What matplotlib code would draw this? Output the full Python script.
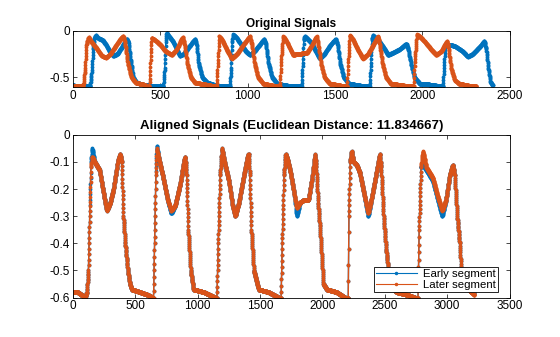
import numpy as np
import matplotlib.pyplot as plt

plt.rcParams['font.family'] = ['Liberation Sans', 'DejaVu Sans']

# === data: keypoints (sample index, value) ===
early_t = [0, 90, 99, 108, 116, 124, 130, 145, 170, 190, 210, 232, 255, 280, 300, 309, 318, 330, 345, 365, 400, 470,
           518, 526, 532, 537, 550, 575, 600, 613, 635, 670, 699, 708, 720, 740, 770, 820, 890,
           899, 906, 912, 918, 935, 960, 990, 1013, 1040, 1070, 1095, 1105, 1120, 1140, 1170, 1220, 1300,
           1309, 1316, 1322, 1328, 1345, 1365, 1390, 1413, 1440, 1475, 1505, 1515, 1530, 1550, 1580, 1640, 1690,
           1699, 1706, 1712, 1718, 1735, 1760, 1785, 1804, 1830, 1870, 1909, 1920, 1935, 1955, 1985, 2040, 2110,
           2118, 2124, 2131, 2137, 2160, 2190, 2230, 2260, 2290, 2330, 2356, 2366, 2378, 2390, 2404]
early_v = [-0.59, -0.6, -0.6, -0.45, -0.2, -0.08, -0.05, -0.08, -0.1, -0.15, -0.22, -0.27, -0.25, -0.18, -0.11, -0.09, -0.12, -0.3, -0.5, -0.56, -0.58, -0.6,
           -0.6, -0.4, -0.12, -0.02, -0.06, -0.12, -0.22, -0.27, -0.25, -0.16, -0.09, -0.15, -0.35, -0.5, -0.56, -0.59, -0.6,
           -0.6, -0.4, -0.12, -0.04, -0.07, -0.14, -0.22, -0.26, -0.22, -0.15, -0.09, -0.15, -0.35, -0.5, -0.57, -0.59, -0.6,
           -0.6, -0.35, -0.1, -0.06, -0.09, -0.13, -0.22, -0.3, -0.25, -0.15, -0.09, -0.15, -0.35, -0.5, -0.57, -0.59, -0.6,
           -0.6, -0.35, -0.1, -0.05, -0.08, -0.13, -0.2, -0.26, -0.24, -0.2, -0.14, -0.2, -0.35, -0.5, -0.57, -0.58, -0.6,
           -0.6, -0.4, -0.18, -0.15, -0.15, -0.17, -0.22, -0.28, -0.25, -0.17, -0.11, -0.2, -0.4, -0.55, -0.59]

later_t = [0, 55, 61, 70, 78, 90, 110, 140, 165, 190, 215, 250, 280, 290, 300, 315, 335, 360, 404, 430,
           438, 444, 451, 470, 500, 530, 566, 595, 615, 629, 640, 655, 675, 700, 760, 815,
           823, 830, 838, 855, 880, 909, 940, 980, 1013, 1025, 1040, 1060, 1090, 1140, 1180,
           1185, 1193, 1204, 1225, 1245, 1261, 1290, 1340, 1370, 1395, 1405, 1420, 1440, 1470, 1530, 1565,
           1570, 1577, 1585, 1605, 1630, 1661, 1690, 1720, 1747, 1757, 1772, 1792, 1820, 1890, 1945,
           1951, 1958, 1970, 1990, 2020, 2050, 2080, 2110, 2141, 2150, 2165, 2185, 2210, 2260, 2309]
later_v = [-0.6, -0.6, -0.58, -0.4, -0.15, -0.07, -0.13, -0.2, -0.27, -0.29, -0.25, -0.15, -0.07, -0.06, -0.15, -0.35, -0.5, -0.56, -0.58, -0.6,
           -0.6, -0.35, -0.08, -0.1, -0.15, -0.22, -0.26, -0.2, -0.12, -0.07, -0.15, -0.35, -0.5, -0.56, -0.58, -0.6,
           -0.6, -0.35, -0.06, -0.1, -0.2, -0.3, -0.25, -0.14, -0.06, -0.15, -0.35, -0.5, -0.57, -0.59, -0.6,
           -0.6, -0.3, -0.06, -0.12, -0.2, -0.26, -0.25, -0.24, -0.15, -0.06, -0.15, -0.35, -0.5, -0.57, -0.59, -0.6,
           -0.6, -0.3, -0.05, -0.1, -0.2, -0.3, -0.25, -0.15, -0.06, -0.15, -0.35, -0.5, -0.57, -0.59, -0.6,
           -0.6, -0.3, -0.04, -0.07, -0.13, -0.2, -0.26, -0.22, -0.11, -0.18, -0.4, -0.53, -0.57, -0.59, -0.6]

aligned_t = [0, 40, 99, 112, 125, 135, 145, 155, 175, 214, 240, 273, 300, 326, 360, 380, 392, 405, 420, 441, 458, 473, 540, 600, 640,
             647, 655, 665, 672, 690, 720, 760, 789, 820, 860, 890, 901, 912, 925, 945, 968, 1050, 1142,
             1155, 1165, 1180, 1195, 1215, 1250, 1280, 1302, 1330, 1370, 1400, 1409, 1418, 1430, 1450, 1489, 1570, 1650,
             1669, 1678, 1692, 1705, 1720, 1745, 1775, 1795, 1820, 1850, 1888, 1920, 1941, 1950, 1965, 1981, 2008, 2035, 2114, 2181,
             2207, 2212, 2222, 2234, 2250, 2274, 2300, 2335, 2367, 2400, 2440, 2460, 2470, 2490, 2510, 2540, 2593, 2680, 2740,
             2766, 2775, 2790, 2806, 2820, 2833, 2860, 2886, 2920, 2960, 2990, 3020, 3045, 3060, 3080, 3100, 3112, 3150, 3192, 3218]
aligned_later_v = [-0.58, -0.58, -0.6, -0.58, -0.5, -0.3, -0.12, -0.08, -0.1, -0.13, -0.2, -0.28, -0.25, -0.2, -0.1, -0.07, -0.1, -0.3, -0.4, -0.5, -0.55, -0.57, -0.58, -0.59, -0.6,
                   -0.6, -0.4, -0.15, -0.05, -0.09, -0.15, -0.24, -0.28, -0.26, -0.18, -0.1, -0.08, -0.15, -0.35, -0.5, -0.57, -0.58, -0.6,
                   -0.6, -0.4, -0.15, -0.05, -0.1, -0.17, -0.26, -0.3, -0.25, -0.15, -0.08, -0.07, -0.15, -0.35, -0.5, -0.57, -0.58, -0.6,
                   -0.6, -0.4, -0.15, -0.07, -0.09, -0.14, -0.22, -0.27, -0.25, -0.24, -0.24, -0.15, -0.07, -0.12, -0.25, -0.35, -0.55, -0.57, -0.58, -0.6,
                   -0.6, -0.3, -0.1, -0.06, -0.1, -0.11, -0.14, -0.22, -0.29, -0.22, -0.12, -0.07, -0.12, -0.3, -0.42, -0.55, -0.58, -0.59, -0.6,
                   -0.6, -0.35, -0.12, -0.06, -0.09, -0.12, -0.14, -0.16, -0.22, -0.28, -0.24, -0.15, -0.11, -0.15, -0.3, -0.4, -0.5, -0.56, -0.58, -0.59]
aligned_early_v = [-0.58, -0.58, -0.6, -0.58, -0.5, -0.3, -0.1, -0.05, -0.1, -0.13, -0.2, -0.28, -0.25, -0.2, -0.1, -0.07, -0.1, -0.3, -0.4, -0.5, -0.55, -0.57, -0.58, -0.59, -0.6,
                   -0.6, -0.4, -0.15, -0.04, -0.09, -0.15, -0.24, -0.29, -0.26, -0.18, -0.1, -0.08, -0.15, -0.35, -0.5, -0.57, -0.58, -0.6,
                   -0.6, -0.4, -0.15, -0.05, -0.1, -0.17, -0.26, -0.3, -0.25, -0.15, -0.08, -0.07, -0.15, -0.35, -0.5, -0.57, -0.58, -0.6,
                   -0.6, -0.4, -0.15, -0.07, -0.09, -0.14, -0.22, -0.3, -0.25, -0.24, -0.24, -0.15, -0.07, -0.12, -0.25, -0.35, -0.55, -0.57, -0.58, -0.6,
                   -0.6, -0.3, -0.1, -0.06, -0.1, -0.11, -0.14, -0.22, -0.3, -0.22, -0.12, -0.07, -0.12, -0.3, -0.42, -0.55, -0.58, -0.59, -0.6,
                   -0.6, -0.35, -0.12, -0.11, -0.12, -0.13, -0.15, -0.17, -0.23, -0.3, -0.24, -0.15, -0.11, -0.15, -0.3, -0.4, -0.5, -0.56, -0.58, -0.58]

euclid_dist = 11.834667
legend_labels = ['Early segment', 'Later segment']
blue = '#0072BD'
orange = '#D95319'


def dense(t, v):
    n = np.arange(t[0], t[-1] + 1)
    return n, np.interp(n, t, v)


fig = plt.figure(figsize=(5.6, 3.37), dpi=100)
ax1 = fig.add_axes([0.130, 0.741, 0.780, 0.168])
ax2 = fig.add_axes([0.130, 0.117, 0.780, 0.483])

# === Original signals ===
x, y = dense(early_t, early_v)
ax1.plot(x, y, '.-', color=blue, ms=3.5, lw=1.0)
x, y = dense(later_t, later_v)
ax1.plot(x, y, '.-', color=orange, ms=3.5, lw=1.0)
ax1.set_xlim(0, 2500)
ax1.set_ylim(-0.61, 0)
ax1.set_yticks([-0.5, 0])
ax1.set_yticklabels(['-0.5', '0'])
ax1.set_title('Original Signals', fontsize=8.5, fontweight='bold', pad=3)

# === Aligned signals ===
x, y = dense(aligned_t, aligned_early_v)
h1, = ax2.plot(x, y, '.-', color=blue, ms=3.5, lw=1.0)
x, y = dense(aligned_t, aligned_later_v)
h2, = ax2.plot(x, y, '.-', color=orange, ms=3.5, lw=1.0)
ax2.set_xlim(0, 3500)
ax2.set_ylim(-0.6, 0)
ax2.set_yticks(np.arange(-0.6, 0.01, 0.1))
ax2.set_yticklabels(['-0.6', '-0.5', '-0.4', '-0.3', '-0.2', '-0.1', '0'])
ax2.set_title(f'Aligned Signals (Euclidean Distance: {euclid_dist:f})', fontsize=9.5, fontweight='bold', pad=4)
leg = ax2.legend([h1, h2], legend_labels, loc='lower right', bbox_to_anchor=(0.973, 0.035),
                 fontsize=8.2, numpoints=1, fancybox=False, edgecolor='black', framealpha=1,
                 borderpad=0.2, handlelength=3.6, handletextpad=0.5, labelspacing=0.05, borderaxespad=0)
leg.get_frame().set_linewidth(0.6)
for lh in leg.legend_handles:
    lh.set_markersize(3)
    lh.set_linewidth(0.8)

for ax in (ax1, ax2):
    ax.tick_params(direction='in', top=True, right=True, labelsize=8.5, length=3, width=0.5, pad=2)
    for s in ax.spines.values():
        s.set_linewidth(0.6)

fig.savefig('out.png', dpi=100)
